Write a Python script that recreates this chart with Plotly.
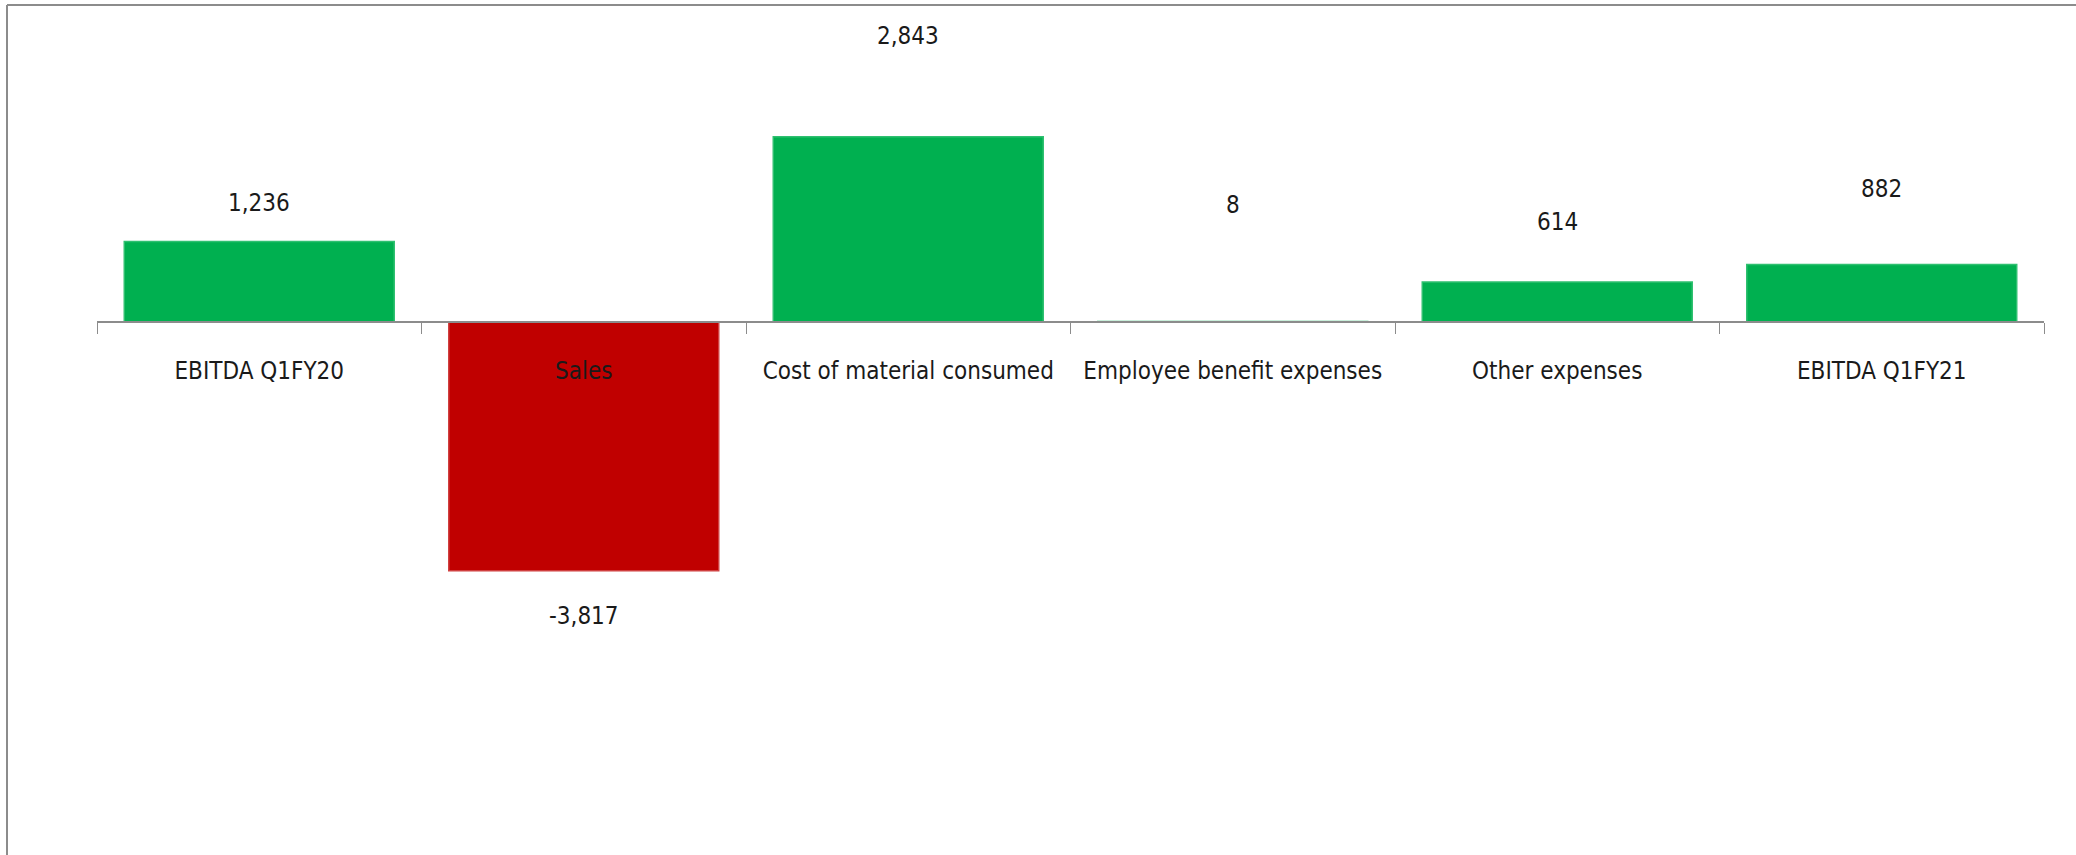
import plotly.graph_objects as go

categories = ["EBITDA Q1FY20", "Sales", "Cost of material consumed",
              "Employee benefit expenses", "Other expenses", "EBITDA Q1FY21"]
values = [1236, -3817, 2843, 8, 614, 882]
value_labels = ["1,236", "-3,817", "2,843", "8", "614", "882"]

# styling
GREEN = "#00B050"
RED = "#C00000"
bar_colors = [GREEN if v >= 0 else RED for v in values]
edge_colors = ["#2fc070" if v >= 0 else "#d04040" for v in values]
label_shift_px = [38, -45, 101, 116, 60, 75]
FONT = "DejaVu Sans Condensed, sans-serif"
FSIZE = 24

W, H = 2076, 855
m_l, m_r, m_t, m_b = 97, 32, 5, 0
y_max, y_min = 4862, -8175
zero_pos = (0 - y_min) / (y_max - y_min)

fig = go.Figure()
fig.add_trace(go.Bar(
    x=categories, y=values,
    marker=dict(color=bar_colors, line=dict(color=edge_colors, width=1.5)),
    width=0.832,
    hoverinfo="skip",
))

for c, v, t, s in zip(categories, values, value_labels, label_shift_px):
    fig.add_annotation(x=c, y=v, text=t, showarrow=False, yanchor="middle",
                       yshift=s, font=dict(family=FONT, size=FSIZE, color="#1a1a1a"))

# outer chart frame (top and left edges)
fx0 = (7 - m_l) / (W - m_l - m_r)
fig.add_shape(type="line", xref="paper", yref="paper", x0=fx0, x1=1.1, y0=1, y1=1,
              line=dict(color="#8c8c8c", width=2))
fig.add_shape(type="line", xref="paper", yref="paper", x0=fx0, x1=fx0, y0=-0.05, y1=1,
              line=dict(color="#8c8c8c", width=2))

fig.update_layout(
    width=W, height=H,
    margin=dict(l=m_l, r=m_r, t=m_t, b=m_b),
    plot_bgcolor="white", paper_bgcolor="white",
    showlegend=False,
    xaxis=dict(
        type="category", range=[-0.5, 5.5],
        anchor="free", position=zero_pos,
        showline=True, linecolor="#8c8c8c", linewidth=1.5,
        ticks="outside", tickson="boundaries", ticklen=11, tickcolor="#8c8c8c", tickwidth=1,
        tickfont=dict(family=FONT, size=FSIZE, color="#1a1a1a"),
        tickangle=0, automargin=False,
        ticklabelstandoff=27,
        showgrid=False, zeroline=False,
    ),
    yaxis=dict(range=[y_min, y_max], visible=False, showgrid=False, zeroline=False),
)

fig.write_html("out.html")
